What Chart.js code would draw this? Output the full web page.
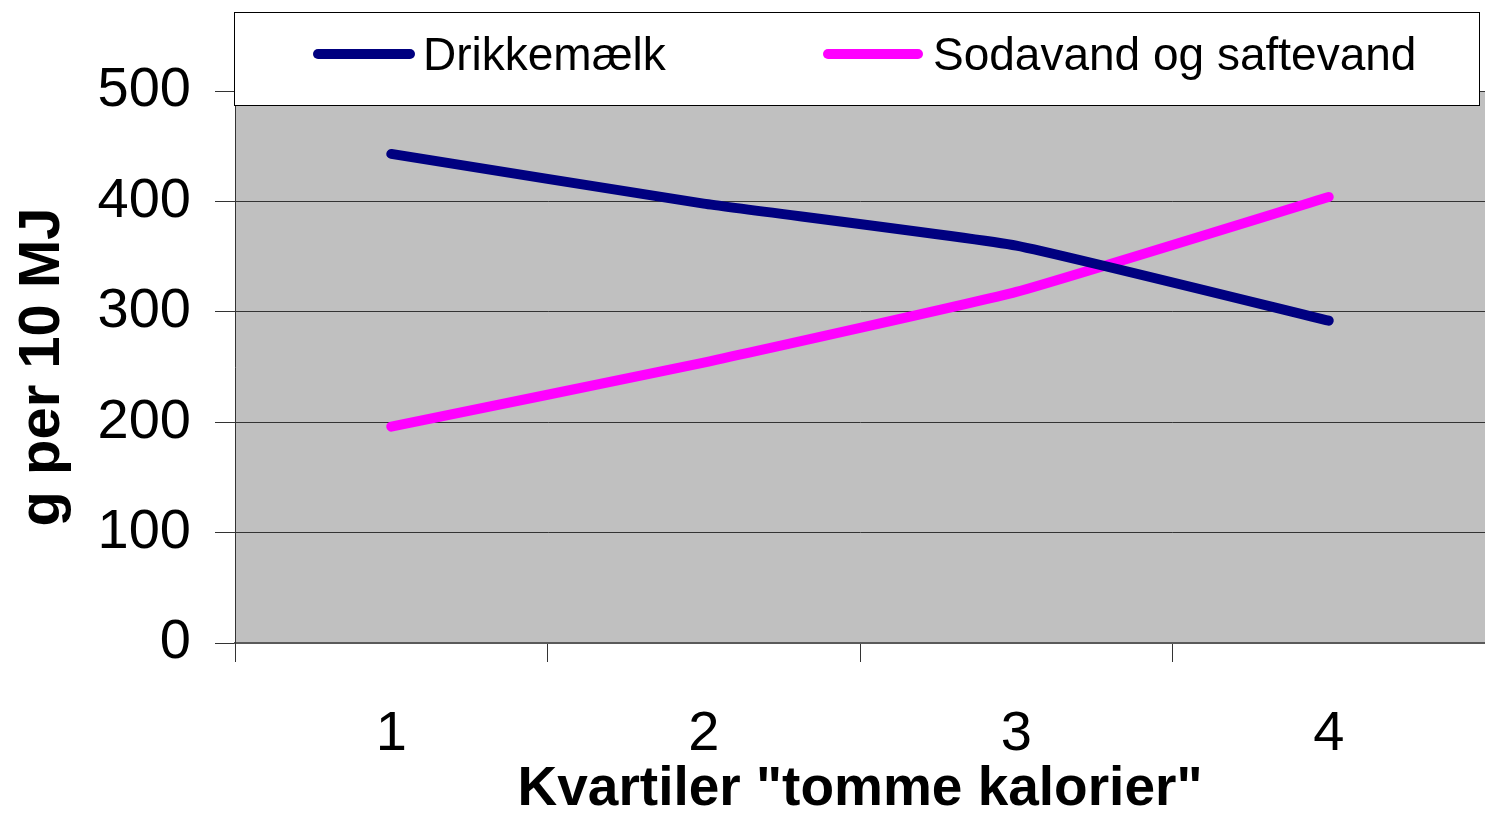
<!DOCTYPE html>
<html>
<head>
<meta charset="utf-8">
<script src="https://cdn.jsdelivr.net/npm/chart.js@4/dist/chart.umd.min.js"></script>
<style>
  html, body { margin: 0; padding: 0; background: #ffffff; }
  #wrap { width: 1485px; height: 815px; position: relative; }
</style>
</head>
<body>
<div id="wrap"><canvas id="c" width="1485" height="815"></canvas></div>
<script>
const categories = ['1', '2', '3', '4'];
const seriesNames = ['Drikkemælk', 'Sodavand og saftevand'];
const drikkemaelk = [443, 398, 360, 292];
const sodavand = [196, 254, 318, 404];
const yTicks = [0, 100, 200, 300, 400, 500];
const yTitle = 'g per 10 MJ';
const xTitle = 'Kvartiler "tomme kalorier"';

const FONT = "'Liberation Sans', Arial, Helvetica, sans-serif";

const plotBg = {
  id: 'plotBg',
  beforeDraw(chart) {
    const {ctx, chartArea: a} = chart;
    ctx.save();
    ctx.fillStyle = '#c0c0c0';
    ctx.fillRect(a.left, a.top, a.right - a.left, a.bottom - a.top);
    ctx.restore();
  }
};

const boxLegend = {
  id: 'boxLegend',
  afterDraw(chart) {
    const ctx = chart.ctx;
    ctx.save();
    ctx.fillStyle = '#ffffff';
    ctx.fillRect(234, 12, 1245, 93);
    ctx.strokeStyle = '#000000';
    ctx.lineWidth = 1;
    ctx.strokeRect(234.5, 12.5, 1245, 93);
    const items = [
      {x0: 318, x1: 410, tx: 423},
      {x0: 828, x1: 918, tx: 933}
    ];
    chart.data.datasets.forEach((ds, i) => {
      const it = items[i];
      ctx.strokeStyle = ds.borderColor;
      ctx.lineWidth = 10;
      ctx.lineCap = 'round';
      ctx.beginPath();
      ctx.moveTo(it.x0, 54);
      ctx.lineTo(it.x1, 54);
      ctx.stroke();
      ctx.fillStyle = '#000000';
      ctx.font = '46px ' + FONT;
      ctx.textBaseline = 'middle';
      ctx.textAlign = 'left';
      ctx.fillText(ds.label, it.tx, 57);
    });
    ctx.restore();
  }
};

new Chart(document.getElementById('c'), {
  type: 'line',
  data: {
    labels: categories,
    datasets: [
      {
        label: seriesNames[0],
        data: drikkemaelk,
        borderColor: '#000080',
        backgroundColor: '#000080',
        borderWidth: 10,
        borderCapStyle: 'round',
        borderJoinStyle: 'round',
        pointRadius: 0,
        pointHoverRadius: 0,
        tension: 0.12,
        fill: false
      },
      {
        label: seriesNames[1],
        data: sodavand,
        borderColor: '#ff00ff',
        backgroundColor: '#ff00ff',
        borderWidth: 10,
        borderCapStyle: 'round',
        borderJoinStyle: 'round',
        pointRadius: 0,
        pointHoverRadius: 0,
        tension: 0.12,
        fill: false
      }
    ]
  },
  options: {
    responsive: false,
    animation: false,
    events: [],
    layout: { padding: { top: 91, right: 0, left: 0, bottom: 0 } },
    plugins: {
      legend: { display: false },
      tooltip: { enabled: false },
      title: { display: false }
    },
    scales: {
      x: {
        type: 'category',
        offset: true,
        grid: {
          display: true,
          drawOnChartArea: false,
          drawTicks: true,
          tickLength: 19,
          offset: true,
          color: '#333333',
          lineWidth: 1
        },
        border: { display: true, color: '#5a5a5a', width: 2 },
        ticks: {
          color: '#000000',
          font: { family: FONT, size: 56 },
          padding: 39,
          maxRotation: 0
        },
        title: {
          display: true,
          text: xTitle,
          color: '#000000',
          font: { family: FONT, size: 55, weight: 'bold', lineHeight: 0.9 },
          padding: { top: 0, bottom: 0 }
        },
        afterFit(scale) { scale.height = 172; }
      },
      y: {
        min: 0,
        max: 500,
        afterBuildTicks(scale) { scale.ticks = yTicks.map(v => ({ value: v })); },
        grid: {
          display: true,
          drawOnChartArea: true,
          drawTicks: true,
          tickLength: 20,
          color: '#333333',
          lineWidth: 1
        },
        border: { display: true, color: '#333333', width: 1 },
        ticks: {
          color: '#000000',
          font: { family: FONT, size: 56 },
          padding: 24
        },
        title: {
          display: true,
          text: yTitle,
          color: '#000000',
          font: { family: FONT, size: 58, weight: 'bold', lineHeight: 1.2 },
          padding: { top: 8, bottom: 0 }
        },
        afterFit(scale) { scale.width = 235; }
      }
    }
  },
  plugins: [plotBg, boxLegend]
});
</script>
</body>
</html>
